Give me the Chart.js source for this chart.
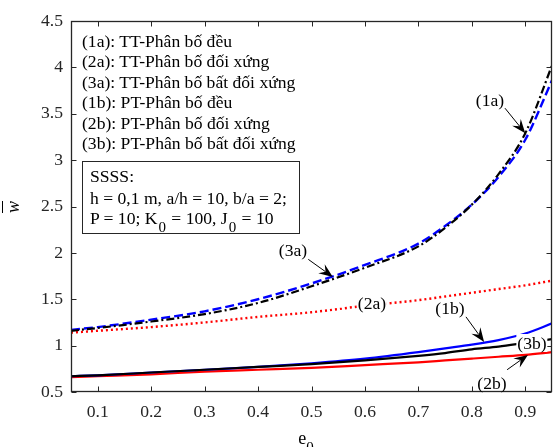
<!DOCTYPE html>
<html><head><meta charset="utf-8">
<script src="https://cdn.jsdelivr.net/npm/chart.js@4/dist/chart.umd.min.js"></script>
<style>
html,body{margin:0;padding:0;background:#fff;}
#wrap{position:relative;width:553px;height:447px;overflow:hidden;font-family:"Liberation Serif","Times New Roman",serif;color:#000;}
#c{position:absolute;left:0;top:0;}
.t{position:absolute;white-space:nowrap;font-size:17.6px;}
.lab{position:absolute;white-space:nowrap;font-size:17.6px;line-height:18px;transform:translate(-50%,-50%);}
.wbg{background:#fff;padding:0 1px;}
#legend{left:82px;top:31px;line-height:20.4px;}
#params{left:82px;top:161px;width:216px;height:71px;border:1px solid #262626;background:#fff;box-sizing:content-box;}
#params div{position:absolute;left:7px;white-space:nowrap;font-size:17.6px;line-height:20px;}
.sb{position:relative;top:8px;font-size:15px;padding:0 1px;}
#ylab{left:13px;top:207px;transform:translate(-50%,-50%) rotate(-90deg);font-style:italic;font-size:18px;text-decoration:overline;line-height:20px;}
#xlab{left:306px;top:429px;font-size:18px;line-height:18px;transform:translateX(-50%);}
</style></head>
<body><div id="wrap">
<canvas id="c" width="553" height="447"></canvas>
<div class="t" id="legend">(1a): TT-Phân bố đều<br>(2a): TT-Phân bố đối xứng<br>(3a): TT-Phân bố bất đối xứng<br>(1b): PT-Phân bố đều<br>(2b): PT-Phân bố đối xứng<br>(3b): PT-Phân bố bất đối xứng</div>
<div class="t" id="params">
<div style="top:4px">SSSS:</div>
<div style="top:26px">h = 0,1 m, a/h = 10, b/a = 2;</div>
<div style="top:46px">P = 10; K<span class="sb">0</span> = 100, J<span class="sb">0</span> = 10</div>
</div>
<div class="lab" style="left:490px;top:100px">(1a)</div>
<div class="lab" style="left:293px;top:250px">(3a)</div>
<div class="lab wbg" style="left:372px;top:303px">(2a)</div>
<div class="lab" style="left:450px;top:308px">(1b)</div>
<div class="lab wbg" style="left:532px;top:343px">(3b)</div>
<div class="lab" style="left:492px;top:383px">(2b)</div>
<div class="t" id="ylab">w</div>
<div class="t" id="xlab">e<span style="position:relative;top:8px;font-size:15px;">0</span></div>
</div>
<script>
// ---- data ----
const e0  = [0.05,0.10,0.20,0.30,0.40,0.50,0.60,0.70,0.75,0.80,0.85,0.90,0.95];
const w1a = [1.16,1.19,1.26,1.34,1.46,1.64,1.84,2.07,2.27,2.52,2.85,3.29,4.02];
const w3a = [1.17,1.20,1.28,1.37,1.50,1.67,1.87,2.10,2.29,2.52,2.82,3.22,3.86];
const w2a = [1.14,1.16,1.20,1.25,1.31,1.36,1.43,1.49,1.53,1.57,1.61,1.65,1.70];
const w1b = [0.67,0.68,0.71,0.74,0.77,0.81,0.86,0.93,0.97,1.01,1.06,1.13,1.24];
const w3b = [0.67,0.68,0.71,0.74,0.77,0.80,0.84,0.89,0.92,0.96,0.99,1.03,1.07];
const w2b = [0.66,0.67,0.69,0.72,0.74,0.76,0.79,0.82,0.84,0.86,0.88,0.90,0.93];
const xTicks = [0.1,0.2,0.3,0.4,0.5,0.6,0.7,0.8,0.9];
const yTicks = [0.5,1,1.5,2,2.5,3,3.5,4,4.5];
// annotation arrows in data units: [fromX, fromY, toX, toY]
const arrows = [
  [0.862,3.56,0.900,3.29],
  [0.494,1.93,0.540,1.74],
  [0.789,1.31,0.823,1.04],
  [0.866,0.74,0.905,0.90]
];

const pts = ys => e0.map((x,i)=>({x:x,y:ys[i]}));
const AX = '#262626';
const FONT = {family:'"Liberation Serif","Times New Roman",serif', size:17.6};

const framePlugin = {
  id:'frame',
  afterDatasetsDraw(chart){
    const ctx = chart.ctx, a = chart.chartArea;
    const xs = chart.scales.x, ys = chart.scales.y;
    ctx.save();
    ctx.strokeStyle = '#000'; ctx.fillStyle = '#000'; ctx.lineWidth = 1;
    arrows.forEach(ar=>{
      const x1 = xs.getPixelForValue(ar[0]), y1 = ys.getPixelForValue(ar[1]);
      const x2 = xs.getPixelForValue(ar[2]), y2 = ys.getPixelForValue(ar[3]);
      const ang = Math.atan2(y2-y1,x2-x1), c = Math.cos(ang), s = Math.sin(ang);
      const L = 14, W = 5.5, N = 9;
      ctx.beginPath(); ctx.moveTo(x1,y1); ctx.lineTo(x2-N*c, y2-N*s); ctx.stroke();
      ctx.beginPath();
      ctx.moveTo(x2,y2);
      ctx.lineTo(x2-L*c+W*s, y2-L*s-W*c);
      ctx.lineTo(x2-N*c, y2-N*s);
      ctx.lineTo(x2-L*c-W*s, y2-L*s+W*c);
      ctx.closePath(); ctx.fill();
    });
    ctx.strokeStyle = AX; ctx.lineWidth = 1.3;
    const L = Math.round(a.left)+0.5, R = Math.round(a.right)-0.5, T = Math.round(a.top)+0.5, B = Math.round(a.bottom)-0.5;
    ctx.strokeRect(L, T, R-L, B-T);
    ctx.lineWidth = 1;
    ctx.beginPath();
    xTicks.forEach(v=>{
      const p = Math.round(xs.getPixelForValue(v))+0.5;
      ctx.moveTo(p,B); ctx.lineTo(p,B-5);
      ctx.moveTo(p,T); ctx.lineTo(p,T+5);
    });
    yTicks.forEach(v=>{
      const p = Math.round(ys.getPixelForValue(v))+0.5;
      ctx.moveTo(L,p); ctx.lineTo(L+5,p);
      ctx.moveTo(R,p); ctx.lineTo(R-5,p);
    });
    ctx.stroke();
    ctx.restore();
  }
};

new Chart(document.getElementById('c'), {
  type:'line',
  data:{datasets:[
    {label:'(1a)', data:pts(w1a), borderColor:'#000', borderWidth:2.2, borderDash:[8,3,2,3]},
    {label:'(3a)', data:pts(w3a), borderColor:'#0000ff', borderWidth:2.4, borderDash:[9,4]},
    {label:'(2a)', data:pts(w2a), borderColor:'#ff0000', borderWidth:2.4, borderDash:[2,3]},
    {label:'(3b)', data:pts(w3b), borderColor:'#000', borderWidth:2.2},
    {label:'(1b)', data:pts(w1b), borderColor:'#0000ff', borderWidth:2.2},
    {label:'(2b)', data:pts(w2b), borderColor:'#ff0000', borderWidth:2.2}
  ]},
  options:{
    responsive:false, animation:false, devicePixelRatio:1,
    layout:{padding:{top:21,right:1,left:0,bottom:0}},
    elements:{point:{radius:0}, line:{cubicInterpolationMode:'monotone', fill:false}},
    plugins:{legend:{display:false}, tooltip:{enabled:false}},
    scales:{
      x:{type:'linear', min:0.05, max:0.95,
        afterBuildTicks(s){ s.ticks = xTicks.map(v=>({value:v})); },
        afterFit(s){ s.height = 55; },
        grid:{display:false, drawTicks:false}, border:{display:false},
        ticks:{padding:10, color:AX, font:FONT, maxRotation:0, autoSkip:false, callback:v=>String(v)}},
      y:{type:'linear', min:0.5, max:4.5,
        afterBuildTicks(s){ s.ticks = yTicks.map(v=>({value:v})); },
        afterFit(s){ s.width = 71; },
        grid:{display:false, drawTicks:false}, border:{display:false},
        ticks:{padding:8, color:AX, font:FONT, autoSkip:false, callback:v=>String(v)}}
    }
  },
  plugins:[framePlugin]
});
</script>
</body></html>
